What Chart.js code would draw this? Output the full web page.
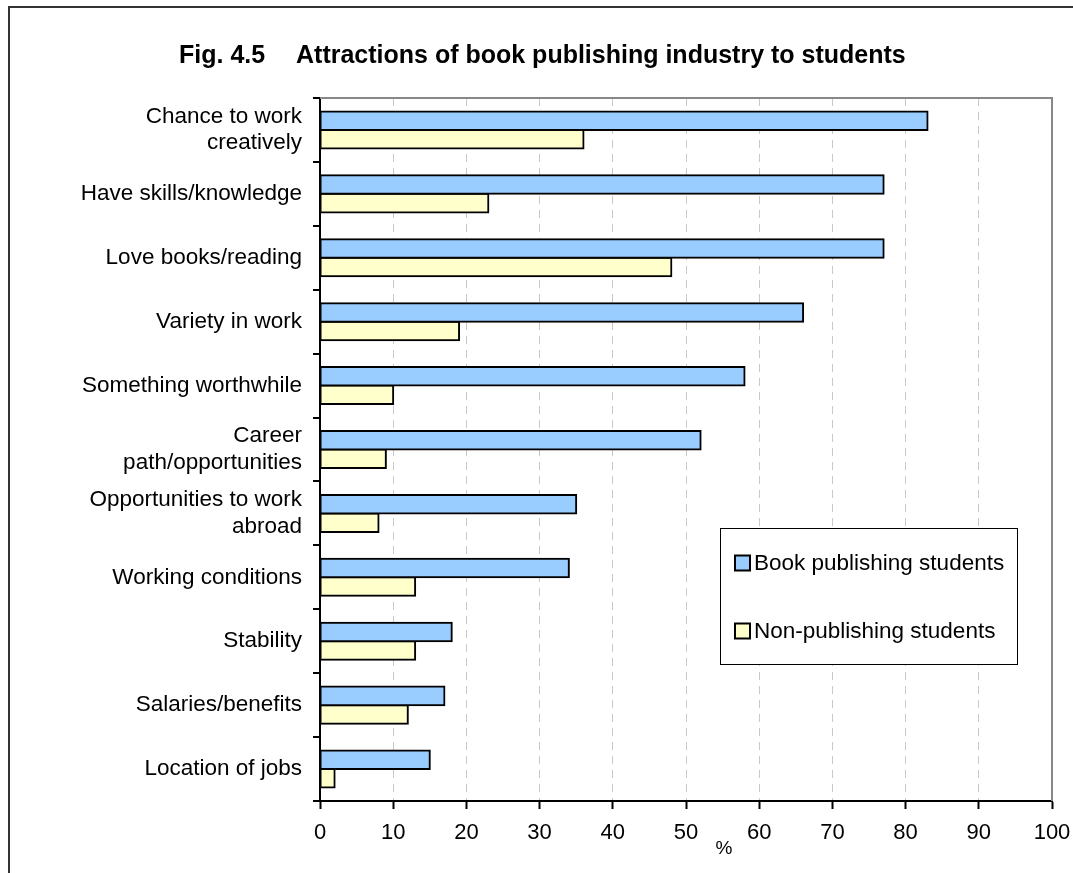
<!DOCTYPE html>
<html>
<head>
<meta charset="utf-8">
<title>Fig. 4.5 Attractions of book publishing industry to students</title>
<script src="https://cdn.jsdelivr.net/npm/chart.js@4/dist/chart.umd.min.js"></script>
<style>
  html, body { margin: 0; padding: 0; background: #fff; }
  #wrap { position: relative; width: 1073px; height: 873px; }
</style>
</head>
<body>
<div id="wrap"><canvas id="chart"></canvas></div>
<script>
// ---------- Data ----------
const categories = [
  ["Chance to work", "creatively"],
  "Have skills/knowledge",
  "Love books/reading",
  "Variety in work",
  "Something worthwhile",
  ["Career", "path/opportunities"],
  ["Opportunities to work", "abroad"],
  "Working conditions",
  "Stability",
  "Salaries/benefits",
  "Location of jobs"
];
const bookPublishing = [83, 77, 77, 66, 58, 52, 35, 34, 18, 17, 15];
const nonPublishing  = [36, 23, 48, 19, 10, 9, 8, 13, 13, 12, 2];
const seriesNames = ["Book publishing students", "Non-publishing students"];
const xTicks = [0, 10, 20, 30, 40, 50, 60, 70, 80, 90, 100];

const FONT = "'Liberation Sans', Arial, sans-serif";

// frame, title, plot border, legend and the "%" caption
const decor = {
  id: "decor",
  beforeDraw(chart) {
    const ctx = chart.ctx;
    ctx.save();
    ctx.fillStyle = "#fff";
    ctx.fillRect(0, 0, chart.width, chart.height);
    ctx.strokeStyle = "#333";
    ctx.lineWidth = 2;
    ctx.beginPath();
    ctx.moveTo(9, chart.height);
    ctx.lineTo(9, 7);
    ctx.lineTo(chart.width, 7);
    ctx.stroke();

    ctx.fillStyle = "#000";
    ctx.font = "bold 25px " + FONT;
    ctx.textBaseline = "alphabetic";
    ctx.textAlign = "left";
    ctx.fillText("Fig. 4.5", 179, 63);
    ctx.fillText("Attractions of book publishing industry to students", 296, 63);
    ctx.restore();
  },
  afterDraw(chart) {
    const ctx = chart.ctx;
    const a = chart.chartArea;
    ctx.save();
    // grey frame on top and right of the plot
    ctx.strokeStyle = "#888";
    ctx.lineWidth = 2;
    ctx.beginPath();
    ctx.moveTo(a.left, a.top);
    ctx.lineTo(a.right, a.top);
    ctx.lineTo(a.right, a.bottom);
    ctx.stroke();

    // legend box
    const lx = 720, ly = 528, lw = 297, lh = 136;
    ctx.fillStyle = "#fff";
    ctx.fillRect(lx, ly, lw, lh);
    ctx.strokeStyle = "#000";
    ctx.lineWidth = 1;
    ctx.strokeRect(lx + 0.5, ly + 0.5, lw, lh);
    ctx.font = "22.5px " + FONT;
    ctx.textBaseline = "middle";
    ctx.textAlign = "left";
    chart.data.datasets.forEach((ds, i) => {
      const cy = 563 + i * 68;
      ctx.fillStyle = ds.backgroundColor;
      ctx.fillRect(735, cy - 7.5, 15, 15);
      ctx.strokeStyle = "#000";
      ctx.lineWidth = 2;
      ctx.strokeRect(735, cy - 7.5, 15, 15);
      ctx.fillStyle = "#000";
      ctx.fillText(ds.label, 754, cy + 1);
    });

    // axis caption
    ctx.font = "19px " + FONT;
    ctx.textAlign = "center";
    ctx.fillText("%", 724, 849);
    ctx.restore();
  }
};

new Chart(document.getElementById("chart"), {
  type: "bar",
  data: {
    labels: categories,
    datasets: [
      {
        label: seriesNames[0],
        data: bookPublishing,
        backgroundColor: "#99ccff",
        borderColor: "#000",
        borderWidth: 2,
        borderSkipped: false,
        inflateAmount: 1
      },
      {
        label: seriesNames[1],
        data: nonPublishing,
        backgroundColor: "#ffffcc",
        borderColor: "#000",
        borderWidth: 2,
        borderSkipped: false,
        inflateAmount: 1
      }
    ]
  },
  options: {
    indexAxis: "y",
    responsive: true,
    maintainAspectRatio: false,
    animation: false,
    categoryPercentage: 0.58,
    barPercentage: 1,
    layout: { padding: { top: 98, right: 21, left: 0, bottom: 0 } },
    plugins: {
      legend: { display: false },
      title: { display: false },
      tooltip: { enabled: false }
    },
    scales: {
      x: {
        min: 0,
        max: 100,
        afterBuildTicks: (s) => { s.ticks = xTicks.map(v => ({ value: v })); },
        afterFit: (s) => { s.height = 72; s.paddingRight = 0; },
        grid: {
          color: "#c8c8c8",
          lineWidth: 1,
          drawTicks: true,
          tickLength: 8,
          tickColor: "#000",
          tickWidth: 2,
          tickBorderDash: []
        },
        border: { display: true, color: "#000", width: 2, dash: [8, 6] },
        ticks: {
          color: "#000",
          padding: 11,
          font: { family: FONT, size: 22 }
        }
      },
      y: {
        afterFit: (s) => { s.width = 320; },
        grid: {
          offset: true,
          drawOnChartArea: false,
          drawTicks: true,
          tickLength: 7,
          color: "#000",
          tickColor: "#000",
          lineWidth: 2,
          tickWidth: 2
        },
        border: { display: true, color: "#000", width: 2 },
        ticks: {
          color: "#000",
          padding: 11,
          autoSkip: false,
          font: { family: FONT, size: 22.5, lineHeight: 1.18 }
        }
      }
    }
  },
  plugins: [decor]
});
</script>
</body>
</html>
